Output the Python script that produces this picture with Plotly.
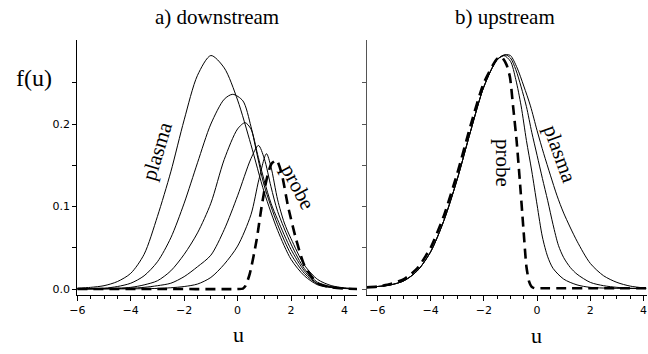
import plotly.graph_objects as go

W, H = 648, 354

# ---------------- data: a) downstream ----------------
c1_u = [-6, -5.5, -5, -4.5, -4, -3.5, -3, -2.5, -2, -1.5, -1, -0.5, 0, 0.5, 1, 1.5, 2, 2.5, 3, 3.5, 4, 4.5]
c1_f = [0.001, 0.002, 0.004, 0.009, 0.019, 0.042, 0.088, 0.142, 0.205, 0.259, 0.283, 0.268, 0.229, 0.175, 0.117, 0.071, 0.036, 0.016, 0.005, 0.0018, 0.0006, 0.0002]

c2_u = [-6, -5, -4.5, -4, -3.5, -3, -2.5, -2, -1.5, -1, -0.5, -0.18, 0.2, 0.5, 0.75, 1, 1.5, 2, 2.5, 3, 3.5, 4, 4.5]
c2_f = [0.0005, 0.001, 0.003, 0.007, 0.016, 0.033, 0.062, 0.104, 0.153, 0.200, 0.230, 0.236, 0.228, 0.197, 0.160, 0.125, 0.078, 0.042, 0.019, 0.006, 0.002, 0.0007, 0.0002]

c3_u = [-6, -5, -4, -3.5, -3, -2.5, -2, -1.5, -1, -0.5, 0, 0.28, 0.5, 0.75, 1, 1.25, 1.5, 2, 2.5, 3, 3.5, 4, 4.5]
c3_f = [0.0002, 0.0005, 0.002, 0.005, 0.010, 0.022, 0.042, 0.068, 0.104, 0.157, 0.194, 0.2016, 0.194, 0.163, 0.131, 0.104, 0.084, 0.048, 0.022, 0.0065, 0.0025, 0.0008, 0.0002]

c4_u = [-6, -5, -4, -3.5, -3, -2.5, -2, -1.5, -1, -0.5, 0, 0.5, 0.78, 1, 1.25, 1.5, 2, 2.5, 3, 3.5, 4, 4.5]
c4_f = [0.0001, 0.0003, 0.001, 0.002, 0.004, 0.007, 0.015, 0.027, 0.041, 0.072, 0.113, 0.158, 0.174, 0.158, 0.124, 0.094, 0.0545, 0.0247, 0.008, 0.003, 0.001, 0.0003]

c5_u = [-6, -5, -4, -3, -2.5, -2, -1.5, -1, -0.5, 0, 0.5, 0.8, 1.08, 1.25, 1.5, 1.75, 2, 2.5, 3, 3.5, 4, 4.5]
c5_f = [0.0, 0.0001, 0.0002, 0.0007, 0.0015, 0.003, 0.006, 0.014, 0.030, 0.052, 0.090, 0.133, 0.164, 0.148, 0.108, 0.080, 0.061, 0.029, 0.0115, 0.0042, 0.0013, 0.0003]

probe_a_u = [-6, -3, 0, 0.2, 0.3, 0.46, 0.71, 0.9, 1.08, 1.27, 1.46, 1.65, 1.89, 2.2, 2.52, 3.0, 3.5, 4.0, 4.5]
probe_a_f = [0, 0, 0, 0.0005, 0.004, 0.019, 0.059, 0.1, 0.132, 0.152, 0.156, 0.14, 0.1, 0.059, 0.027, 0.007, 0.002, 0.0005, 0]

# ---------------- data: b) upstream ----------------
s1_u = [-6.4, -6, -5.5, -5, -4.5, -4, -3.5, -3, -2.5, -2, -1.5, -1.25, -1.0, -0.8, -0.6, -0.4, -0.2, 0, 0.2, 0.4, 0.6, 1.0, 1.5, 2, 3, 4.1]
s1_f = [0.002, 0.003, 0.005, 0.010, 0.022, 0.045, 0.083, 0.133, 0.191, 0.245, 0.278, 0.283, 0.276, 0.254, 0.222, 0.18, 0.143, 0.102, 0.063, 0.039, 0.025, 0.012, 0.005, 0.002, 0.0008, 0.0005]

s2_u = [-6.4, -6, -5.5, -5, -4.5, -4, -3.5, -3, -2.5, -2, -1.5, -1.2, -1.0, -0.8, -0.6, -0.4, -0.2, 0, 0.2, 0.4, 0.6, 0.8, 1.0, 1.25, 1.5, 2, 2.5, 3, 3.5, 4.1]
s2_f = [0.002, 0.003, 0.005, 0.010, 0.022, 0.045, 0.083, 0.133, 0.191, 0.245, 0.278, 0.284, 0.280, 0.266, 0.245, 0.221, 0.190, 0.162, 0.134, 0.107, 0.078, 0.053, 0.038, 0.026, 0.018, 0.008, 0.004, 0.002, 0.001, 0.0005]

s3_u = [-6.4, -6, -5.5, -5, -4.5, -4, -3.5, -3, -2.5, -2, -1.5, -1.15, -1.0, -0.75, -0.5, -0.25, 0, 0.25, 0.5, 0.75, 1.0, 1.5, 2, 2.5, 3, 3.5, 4.1]
s3_f = [0.002, 0.003, 0.005, 0.010, 0.022, 0.045, 0.083, 0.133, 0.191, 0.245, 0.278, 0.284, 0.283, 0.268, 0.246, 0.222, 0.192, 0.164, 0.138, 0.113, 0.092, 0.058, 0.031, 0.016, 0.008, 0.0035, 0.001]

probe_b_u = [-6.4, -6, -5.5, -5, -4.5, -4, -3.5, -3, -2.5, -2, -1.5, -1.33, -1.15, -1.02, -0.9, -0.77, -0.65, -0.52, -0.4, -0.3, -0.21, -0.1, 0.2, 1, 2, 3, 4.1]
probe_b_f = [0.002, 0.003, 0.006, 0.012, 0.025, 0.05, 0.089, 0.14, 0.198, 0.25, 0.279, 0.281, 0.272, 0.257, 0.221, 0.18, 0.132, 0.076, 0.027, 0.009, 0.003, 0.001, 0.001, 0.001, 0.001, 0.001, 0.001]

ytick_vals = [0, 0.05, 0.1, 0.15, 0.2, 0.25]
ytick_text = ["0.0", "", "0.1", "", "0.2", ""]

# ---------------- figure ----------------
fig = go.Figure()

solid = dict(color="black", width=1)
dashed = dict(color="black", width=2.6, dash="10px,6px")

for u, f in [(c1_u, c1_f), (c2_u, c2_f), (c3_u, c3_f), (c4_u, c4_f), (c5_u, c5_f)]:
    fig.add_trace(go.Scatter(x=u, y=f, mode="lines", line=dict(solid, shape="spline", smoothing=0.8),
                             xaxis="x", yaxis="y", showlegend=False, hoverinfo="skip"))
fig.add_trace(go.Scatter(x=probe_a_u, y=probe_a_f, mode="lines", line=dict(dashed, shape="spline", smoothing=0.6),
                         xaxis="x", yaxis="y", showlegend=False, hoverinfo="skip"))

for u, f in [(s1_u, s1_f), (s2_u, s2_f), (s3_u, s3_f)]:
    fig.add_trace(go.Scatter(x=u, y=f, mode="lines", line=dict(solid, shape="spline", smoothing=0.8),
                             xaxis="x2", yaxis="y2", showlegend=False, hoverinfo="skip"))
fig.add_trace(go.Scatter(x=probe_b_u, y=probe_b_f, mode="lines", line=dict(dashed, shape="spline", smoothing=0.6),
                         xaxis="x2", yaxis="y2", showlegend=False, hoverinfo="skip"))


def px(x):
    return x / W


def py(y):
    return 1 - y / H


ydom = [py(295), py(40)]
yrng = [(289 - 295) / 825, (289 - 40) / 825]
tickfont = dict(family="DejaVu Sans", size=11, color="black")


def xax(dom, rng, anchor):
    return dict(domain=dom, range=rng, anchor=anchor, tickmode="linear", tick0=0, dtick=2,
                ticks="outside", ticklen=5, tickwidth=1, tickcolor="black",
                minor=dict(tickmode="linear", tick0=0, dtick=0.5, ticks="outside", ticklen=3,
                           tickwidth=1, tickcolor="black"),
                showline=True, linecolor="black", linewidth=1, showgrid=False, zeroline=False,
                tickfont=tickfont, ticklabeloverflow="allow", fixedrange=True)


def xtop(over, rng, anchor, color):
    return dict(overlaying=over, side="top", anchor=anchor, range=rng, tickmode="linear", tick0=0, dtick=0.5,
                ticks="inside", ticklen=3, tickwidth=1, tickcolor=color, showticklabels=False,
                showline=True, linecolor=color, linewidth=1, showgrid=False, zeroline=False)


def yax(anchor, labels, color):
    return dict(domain=ydom, range=yrng, anchor=anchor, tickmode="array", tickvals=ytick_vals,
                ticktext=ytick_text if labels else [""] * len(ytick_vals),
                ticks="outside", ticklen=4, tickwidth=1, tickcolor=color,
                showline=True, linecolor=color, linewidth=1, showgrid=False, zeroline=False,
                tickfont=tickfont, fixedrange=True)


def yright(over, anchor, color):
    return dict(overlaying=over, side="right", anchor=anchor, range=yrng, tickmode="array", tickvals=ytick_vals,
                ticks="inside", ticklen=4, tickwidth=1, tickcolor=color, showticklabels=False,
                showline=True, linecolor=color, linewidth=1, showgrid=False, zeroline=False)


rng_a = [-6, 4.47]
rng_b = [-6.4, 4.11]
gray = "#555555"

fig.update_layout(
    width=W, height=H,
    margin=dict(l=0, r=0, t=0, b=0, autoexpand=False),
    paper_bgcolor="white", plot_bgcolor="white",
    xaxis=xax([px(77.3), px(357)], rng_a, "y"),
    yaxis=yax("x", True, "black"),
    xaxis3=xtop("x", rng_a, "y", "black"),
    yaxis3=yright("y", "x", "black"),
    xaxis2=xax([px(366.7), px(646.5)], rng_b, "y2"),
    yaxis2=yax("x2", False, gray),
    xaxis4=xtop("x2", rng_b, "y2", gray),
    yaxis4=yright("y2", "x2", gray),
)

serif = "Liberation Serif"


def ann(text, x, y, size, angle=0):
    return dict(text=text, x=px(x), y=py(y), xref="paper", yref="paper", showarrow=False,
                xanchor="center", yanchor="middle", textangle=angle,
                font=dict(family=serif, size=size, color="black"))


fig.update_layout(annotations=[
    ann("a) downstream", 217, 17, 21),
    ann("b) upstream", 505, 17, 21),
    ann("f(u)", 34, 78, 24),
    ann("u", 239, 334, 22),
    ann("u", 536, 335, 22),
    ann("plasma", 157, 151, 21, -73),
    ann("probe", 298, 187, 21, 62),
    ann("probe", 503, 163, 21, 90),
    ann("plasma", 560, 154, 21, 70),
])

fig.write_html("out.html",
               config={"displayModeBar": False, "staticPlot": True},
               post_script="document.documentElement.style.margin='0';"
                           "document.body.style.margin='0';document.body.style.overflow='hidden';")
